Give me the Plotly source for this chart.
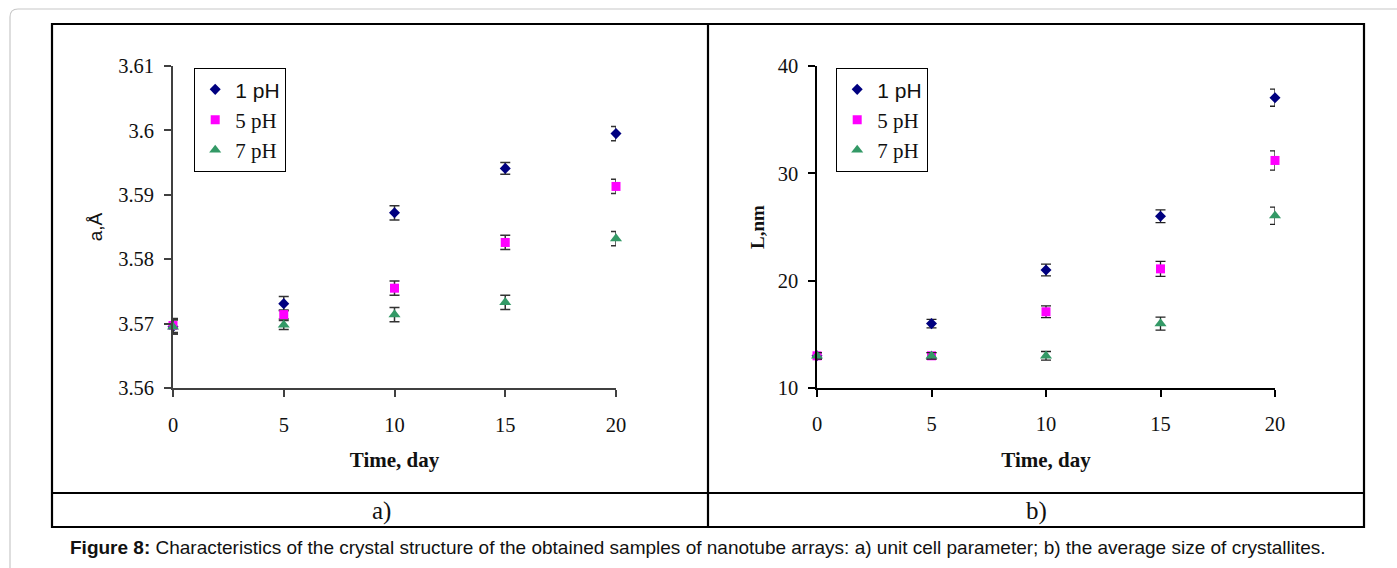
import plotly.graph_objects as go

W, H = 1397, 568

# ---------------- data ----------------
days = [0, 5, 10, 15, 20]
series_names = ["1 pH", "5 pH", "7 pH"]

# a) unit cell parameter, Å
a_1pH = [3.5695, 3.5731, 3.5872, 3.5941, 3.5995]
a_5pH = [3.5697, 3.5714, 3.5755, 3.5826, 3.5913]
a_7pH = [3.5695, 3.5698, 3.5714, 3.5733, 3.5832]
a_err_1pH = [0.0011, 0.0011, 0.0011, 0.0009, 0.0011]
a_err_5pH = [0.0011, 0.0007, 0.0011, 0.0011, 0.0011]
a_err_7pH = [0.0011, 0.0007, 0.0011, 0.0011, 0.0011]

# b) average crystallite size, nm
L_1pH = [13, 16, 21, 26, 37.05]
L_5pH = [13, 13, 17.1, 21.1, 31.2]
L_7pH = [13, 13, 13, 16, 26.05]
L_err_1pH = [0.3, 0.4, 0.55, 0.6, 0.8]
L_err_5pH = [0.3, 0.3, 0.55, 0.7, 0.9]
L_err_7pH = [0.3, 0.3, 0.4, 0.6, 0.8]

x_ticks = [0, 5, 10, 15, 20]
a_ticks = [3.56, 3.57, 3.58, 3.59, 3.6, 3.61]
a_tick_text = ["3.56", "3.57", "3.58", "3.59", "3.6", "3.61"]
L_ticks = [10, 20, 30, 40]

# ---------------- styles ----------------
SERIF = "Liberation Serif, Times New Roman, serif"
SANS = "Liberation Sans, Arial, sans-serif"
colors = ["#000080", "#FF00FF", "#339966"]
symbols = ["diamond", "square", "triangle-up"]
sizes = [8.5, 9, 10.5]
legend_labels = [
    '<span style="font-family:Liberation Sans, Arial, sans-serif">1 pH</span>',
    "5 pH",
    "7 pH",
]


def px(x):
    return x / W


def py(y):
    return 1 - y / H


fig = go.Figure()

left_sets = [(a_1pH, a_err_1pH), (a_5pH, a_err_5pH), (a_7pH, a_err_7pH)]
right_sets = [(L_1pH, L_err_1pH), (L_5pH, L_err_5pH), (L_7pH, L_err_7pH)]

for i, (vals, errs) in enumerate(left_sets):
    fig.add_trace(go.Scatter(
        x=days, y=vals, mode="markers", name=legend_labels[i],
        xaxis="x", yaxis="y", legend="legend", cliponaxis=False,
        marker=dict(symbol=symbols[i], size=sizes[i], color=colors[i]),
        error_y=dict(type="data", array=errs, visible=True,
                     color="#333333", thickness=1.5, width=5),
    ))

for i, (vals, errs) in enumerate(right_sets):
    fig.add_trace(go.Scatter(
        x=days, y=vals, mode="markers", name=legend_labels[i],
        xaxis="x2", yaxis="y2", legend="legend2", cliponaxis=False,
        marker=dict(symbol=symbols[i], size=sizes[i], color=colors[i]),
        error_y=dict(type="data", array=errs, visible=True,
                     color="#222222", thickness=1.3, width=5),
    ))

y_dom = [py(388), py(66)]

axis_common = dict(
    showline=True, showgrid=False, zeroline=False, mirror=False,
    automargin=False,
    ticks="outside", ticklen=7, tickwidth=1.5,
    tickfont=dict(family=SERIF, size=20.5, color="#111"),
)

fig.update_layout(
    width=W, height=H, autosize=False,
    margin=dict(l=0, r=0, t=0, b=0, pad=0, autoexpand=False),
    paper_bgcolor="white", plot_bgcolor="white",
    xaxis=dict(domain=[px(173), px(616)], range=[0, 20], anchor="y",
               tickvals=x_ticks, linecolor="#404040", linewidth=1.8,
               tickcolor="#404040", ticklabelstandoff=10,
               title=dict(text="<b>Time, day</b>", standoff=18,
                          font=dict(family=SERIF, size=21, color="#111")),
               **axis_common),
    yaxis=dict(domain=y_dom, range=[3.56, 3.61], anchor="x",
               tickvals=a_ticks, ticktext=a_tick_text,
               linecolor="#404040", linewidth=1.8, tickcolor="#404040",
               ticklabelstandoff=6,
               title=dict(text="a,Å", standoff=10,
                          font=dict(family=SANS, size=19, color="#111")),
               **axis_common),
    xaxis2=dict(domain=[px(817), px(1275)], range=[0, 20], anchor="y2",
                tickvals=x_ticks, linecolor="#000", linewidth=1.5,
                tickcolor="#000", ticklabelstandoff=10,
                title=dict(text="<b>Time, day</b>", standoff=18,
                           font=dict(family=SERIF, size=21, color="#111")),
                **axis_common),
    yaxis2=dict(domain=y_dom, range=[10, 40], anchor="x2",
                tickvals=L_ticks, linecolor="#000", linewidth=1.5,
                tickcolor="#000", ticklabelstandoff=6,
                title=dict(text="<b>L,nm</b>", standoff=8,
                           font=dict(family=SERIF, size=19, color="#111")),
                **axis_common),
    legend=dict(x=px(194), y=py(68), xanchor="left", yanchor="top",
                bgcolor="white", bordercolor="#000", borderwidth=1.2,
                font=dict(family=SERIF, size=21, color="#111"),
                itemwidth=30, tracegroupgap=0),
    legend2=dict(x=px(836), y=py(68), xanchor="left", yanchor="top",
                 bgcolor="white", bordercolor="#000", borderwidth=1.2,
                 font=dict(family=SERIF, size=21, color="#111"),
                 itemwidth=30, tracegroupgap=0),
    showlegend=True,
)

# ---------------- frame / table ----------------
outer = (f"M {px(10)},{py(600)} L {px(10)},{py(17)} "
         f"Q {px(10)},{py(9)} {px(18)},{py(9)} L {px(1420)},{py(9)}")
shapes = [
    dict(type="path", path=outer, xref="paper", yref="paper",
         line=dict(color="#c8c8c8", width=1.2)),
    dict(type="rect", xref="paper", yref="paper",
         x0=px(52), x1=px(1364), y0=py(527), y1=py(24),
         line=dict(color="#000", width=2.2)),
    dict(type="line", xref="paper", yref="paper",
         x0=px(52), x1=px(1364), y0=py(493), y1=py(493),
         line=dict(color="#000", width=2.2)),
    dict(type="line", xref="paper", yref="paper",
         x0=px(708), x1=px(708), y0=py(527), y1=py(24),
         line=dict(color="#000", width=2.2)),
]
fig.update_layout(shapes=shapes)

annotations = [
    dict(text="a)", x=px(381), y=py(511), xref="paper", yref="paper",
         xanchor="center", yanchor="middle", showarrow=False,
         font=dict(family=SERIF, size=25, color="#111")),
    dict(text="b)", x=px(1036), y=py(511), xref="paper", yref="paper",
         xanchor="center", yanchor="middle", showarrow=False,
         font=dict(family=SERIF, size=25, color="#111")),
    dict(text="<b>Figure 8:</b> Characteristics of the crystal structure of the "
              "obtained samples of nanotube arrays: a) unit cell parameter; "
              "b) the average size of crystallites.",
         x=px(698), y=py(547), xref="paper", yref="paper",
         xanchor="center", yanchor="middle", showarrow=False,
         font=dict(family=SANS, size=19, color="#111")),
]
fig.update_layout(annotations=annotations)

fig.write_html(
    "out.html",
    config={"displayModeBar": False},
    post_script="document.body.style.margin='0';"
                "document.documentElement.style.overflow='hidden';",
)
